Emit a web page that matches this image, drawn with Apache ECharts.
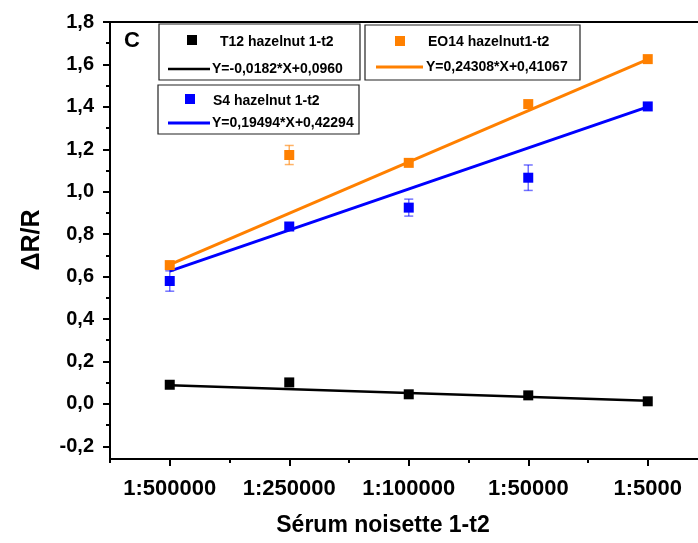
<!DOCTYPE html>
<html>
<head>
<meta charset="utf-8">
<script src="https://cdn.jsdelivr.net/npm/echarts@6/dist/echarts.min.js"></script>
<style>
  html, body { margin: 0; padding: 0; background: #fff; }
  #chart { width: 698px; height: 543px; }
</style>
</head>
<body>
<div id="chart"></div>
<script>
// dilutions on the x axis, placed at 1..5
const categories = ['1:500000', '1:250000', '1:100000', '1:50000', '1:5000']
const xPositions = [1, 2, 3, 4, 5]

// measured points (ΔR/R)
const t12 = [0.090, 0.101, 0.045, 0.040, 0.012]
const eo14 = [0.654, 1.173, 1.136, 1.413, 1.625]
const s4 = [0.579, 0.836, 0.925, 1.066, 1.402]

// error bars (half height)
const eo14Err = [0, 0.045, 0, 0, 0]
const s4Err = [0.048, 0, 0.04, 0.06, 0]

// fitted lines, read at the first and last dilution
const fitX = [1, 5]
const t12Fit = [0.088, 0.015]
const eo14Fit = [0.656, 1.624]
const s4Fit = [0.626, 1.400]

const yTicks = [-0.2, 0, 0.2, 0.4, 0.6, 0.8, 1.0, 1.2, 1.4, 1.6, 1.8]
const yMinorTicks = [-0.1, 0.1, 0.3, 0.5, 0.7, 0.9, 1.1, 1.3, 1.5, 1.7]
const xMinorTicks = [0.5, 1.5, 2.5, 3.5, 4.5]

const FONT = '"Liberation Sans", Arial, sans-serif'
const BLACK = '#000000'
const ORANGE = '#ff8000'
const BLUE = '#0000ff'

const chart = echarts.init(document.getElementById('chart'), null, { renderer: 'canvas' })

function pairs(xs, ys) {
  return xs.map((x, i) => [x, ys[i]])
}

function errorSeries(values, errs, color) {
  return {
    type: 'custom',
    z: 3,
    data: xPositions.map((x, i) => [x, values[i], errs[i]]).filter((d) => d[2] > 0),
    encode: { x: 0, y: 1 },
    renderItem(params, api) {
      const x = api.value(0)
      const y = api.value(1)
      const e = api.value(2)
      const top = api.coord([x, y + e])
      const bot = api.coord([x, y - e])
      const hw = 4.5
      const style = { stroke: color, lineWidth: 1.5 }
      return {
        type: 'group',
        children: [
          { type: 'line', shape: { x1: top[0], y1: top[1], x2: bot[0], y2: bot[1] }, style },
          { type: 'line', shape: { x1: top[0] - hw, y1: top[1], x2: top[0] + hw, y2: top[1] }, style },
          { type: 'line', shape: { x1: bot[0] - hw, y1: bot[1], x2: bot[0] + hw, y2: bot[1] }, style },
        ],
      }
    },
  }
}

function fitSeries(values, color, width) {
  return {
    type: 'line',
    z: 2,
    data: pairs(fitX, values),
    showSymbol: false,
    symbol: 'none',
    lineStyle: { color, width },
  }
}

function pointSeries(values, color) {
  return {
    type: 'scatter',
    z: 4,
    symbol: 'rect',
    symbolSize: 10,
    data: pairs(xPositions, values),
    itemStyle: { color, opacity: 1 },
  }
}

function legendBox(box, marker, label, lineY, lineX, color, lineWidth, eq, eqX) {
  return [
    {
      type: 'rect',
      shape: box,
      style: { fill: '#fff', stroke: '#222', lineWidth: 1.2 },
      z: 10,
    },
    {
      type: 'rect',
      shape: { x: marker[0] - 5, y: marker[1] - 5, width: 10, height: 10 },
      style: { fill: color },
      z: 11,
    },
    {
      type: 'text',
      x: marker[2],
      y: marker[3],
      style: { text: label, font: `bold 14px ${FONT}`, fill: '#000', verticalAlign: 'middle' },
      z: 11,
    },
    {
      type: 'line',
      shape: { x1: lineX[0], y1: lineY, x2: lineX[1], y2: lineY },
      style: { stroke: color, lineWidth },
      z: 11,
    },
    {
      type: 'text',
      x: eqX,
      y: lineY,
      style: { text: eq, font: `bold 14px ${FONT}`, fill: '#000', verticalAlign: 'middle' },
      z: 11,
    },
  ]
}

chart.setOption({
  animation: false,
  backgroundColor: '#fff',
  grid: {
    left: 110,
    top: 22,
    width: 597.5,
    height: 437,
    outerBoundsMode: 'none',
    containLabel: false,
    show: true,
    borderColor: BLACK,
    borderWidth: 2,
    backgroundColor: 'transparent',
  },
  xAxis: [
    {
      type: 'value',
      min: 0.5,
      max: 5.5,
      axisLine: { show: true, onZero: false, lineStyle: { color: BLACK, width: 2 } },
      splitLine: { show: false },
      axisTick: { show: true, length: 7, customValues: xPositions, lineStyle: { color: BLACK, width: 2 } },
      axisLabel: {
        customValues: xPositions,
        formatter: (v) => categories[Math.round(v) - 1],
        color: BLACK,
        fontFamily: FONT,
        fontWeight: 'bold',
        fontSize: 22,
        margin: 19,
      },
    },
    {
      type: 'value',
      min: 0.5,
      max: 5.5,
      position: 'bottom',
      axisLine: { show: false, onZero: false },
      splitLine: { show: false },
      axisTick: { show: true, length: 4, customValues: xMinorTicks, lineStyle: { color: BLACK, width: 2 } },
      axisLabel: { show: false },
    },
  ],
  yAxis: [
    {
      type: 'value',
      min: -0.26,
      max: 1.8,
      axisLine: { show: true, onZero: false, lineStyle: { color: BLACK, width: 2 } },
      splitLine: { show: false },
      axisTick: { show: true, length: 7, customValues: yTicks, lineStyle: { color: BLACK, width: 2 } },
      axisLabel: {
        customValues: yTicks,
        formatter: (v) => v.toFixed(1).replace('.', ','),
        color: BLACK,
        fontFamily: FONT,
        fontWeight: 'bold',
        fontSize: 20,
        margin: 16,
      },
    },
    {
      type: 'value',
      min: -0.26,
      max: 1.8,
      position: 'left',
      axisLine: { show: false, onZero: false },
      splitLine: { show: false },
      axisTick: { show: true, length: 4, customValues: yMinorTicks, lineStyle: { color: BLACK, width: 2 } },
      axisLabel: { show: false },
    },
  ],
  series: [
    fitSeries(t12Fit, BLACK, 2.5),
    fitSeries(s4Fit, BLUE, 3),
    fitSeries(eo14Fit, ORANGE, 3),
    errorSeries(eo14, eo14Err, 'rgba(255,128,0,0.6)'),
    errorSeries(s4, s4Err, 'rgba(0,0,255,0.55)'),
    pointSeries(t12, BLACK),
    pointSeries(s4, BLUE),
    pointSeries(eo14, ORANGE),
  ],
  graphic: [
    {
      type: 'text',
      x: 32,
      y: 240,
      rotation: Math.PI / 2,
      style: { text: 'ΔR/R', font: `bold 25px ${FONT}`, fill: '#000', align: 'center', verticalAlign: 'middle' },
    },
    {
      type: 'text',
      x: 383,
      y: 526,
      style: { text: 'Sérum noisette 1-t2', font: `bold 23px ${FONT}`, fill: '#000', align: 'center', verticalAlign: 'middle' },
    },
    {
      type: 'text',
      x: 132,
      y: 41,
      style: { text: 'C', font: `bold 22px ${FONT}`, fill: '#000', align: 'center', verticalAlign: 'middle' },
    },
    ...legendBox({ x: 159, y: 24, width: 201, height: 56 }, [192, 40, 220, 42], 'T12 hazelnut 1-t2',
      69, [168, 210], BLACK, 2.5, 'Y=-0,0182*X+0,0960', 212),
    ...legendBox({ x: 365, y: 25, width: 215, height: 55 }, [400, 41, 428, 42], 'EO14 hazelnut1-t2',
      67, [376, 423], ORANGE, 3, 'Y=0,24308*X+0,41067', 426),
    ...legendBox({ x: 158, y: 85, width: 201, height: 49 }, [190, 99, 213, 101], 'S4 hazelnut 1-t2',
      123, [168, 210], BLUE, 3, 'Y=0,19494*X+0,42294', 212),
  ],
})
</script>
</body>
</html>
